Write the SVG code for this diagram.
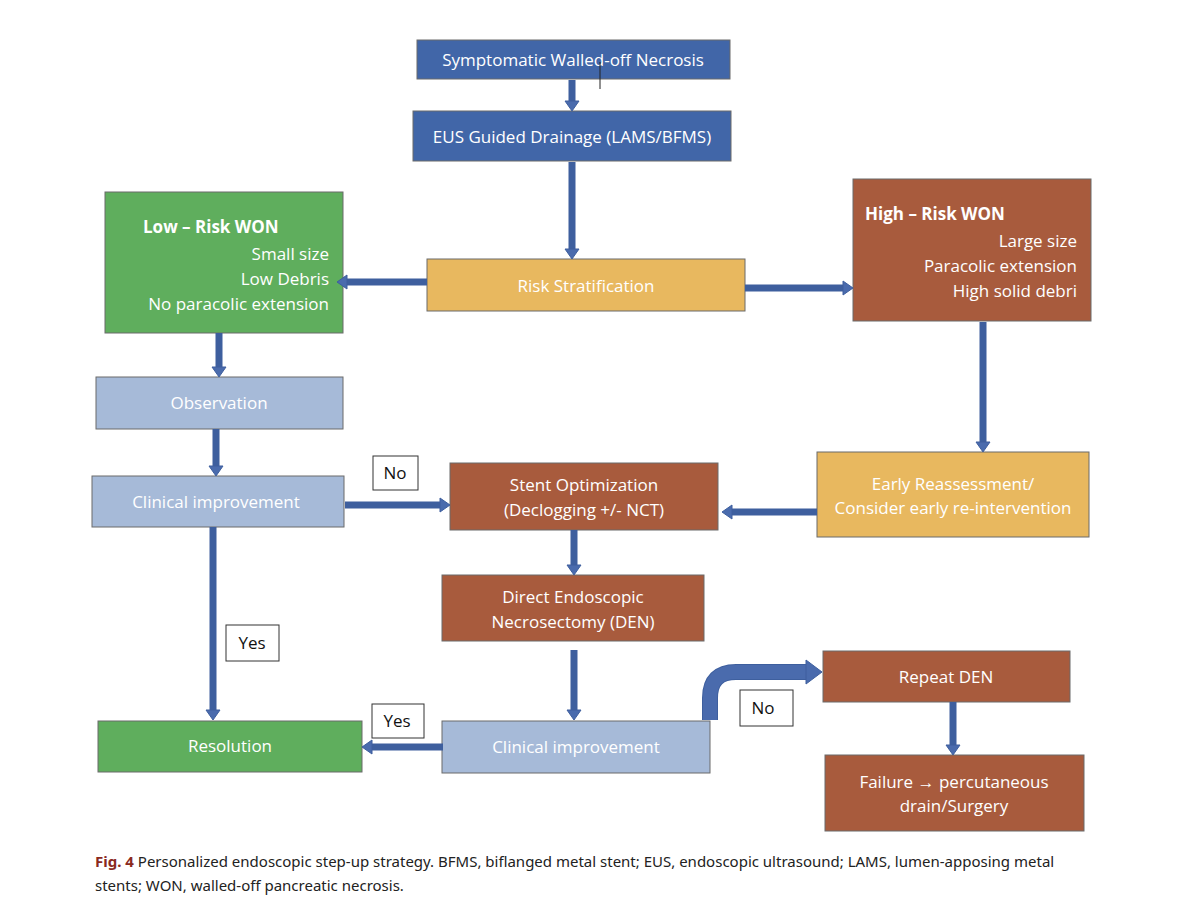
<svg xmlns="http://www.w3.org/2000/svg" width="1200" height="914" viewBox="0 0 1200 914">
<style>
.b{stroke:#6b6b6b;stroke-width:1}
.nv{fill:#4166a8}.gr{fill:#5fae5d}.yl{fill:#e8b85f}.br{fill:#a85b3d}.lb{fill:#a6bad8}
.lbl{fill:#fff;stroke:#333;stroke-width:1}
text{font-family:"Open Sans","Liberation Sans",sans-serif;font-size:17px;fill:#fff}
.c{text-anchor:middle}.r{text-anchor:end}
.k{fill:#111}
.sh{stroke:#3e5f9e;stroke-width:7;fill:none}
.hd{fill:#4a6bad;stroke:#3e5f9e;stroke-width:1}
.cap{font-family:"Noto Sans","Liberation Sans",sans-serif;font-size:15px;fill:#222}
</style>
<rect width="1200" height="914" fill="#fff"/>
<g id="n1"><rect class="b nv" x="417" y="40" width="313" height="39"/><text class="c" x="573" y="66">Symptomatic Walled-off Necrosis</text><line x1="600" y1="62" x2="600" y2="89" stroke="#222" stroke-width="1"/></g>
<g id="n2"><rect class="b nv" x="413" y="111" width="318" height="50"/><text class="c" x="572" y="143">EUS Guided Drainage (LAMS/BFMS)</text></g>
<g id="n3"><rect class="b gr" x="105" y="192" width="238" height="141"/><text x="143" y="233" font-weight="bold" font-size="19">Low – Risk WON</text><text class="r" x="329" y="260">Small size</text><text class="r" x="329" y="285">Low Debris</text><text class="r" x="329" y="310">No paracolic extension</text></g>
<g id="n4"><rect class="b yl" x="427" y="259" width="318" height="52"/><text class="c" x="586" y="292">Risk Stratification</text></g>
<g id="n5"><rect class="b br" x="853" y="179" width="238" height="142"/><text x="865" y="220" font-weight="bold" font-size="19">High – Risk WON</text><text class="r" x="1077" y="247">Large size</text><text class="r" x="1077" y="272">Paracolic extension</text><text class="r" x="1077" y="297">High solid debri</text></g>
<g id="n6"><rect class="b lb" x="96" y="377" width="247" height="52"/><text class="c" x="219" y="409">Observation</text></g>
<g id="n7"><rect class="b lb" x="92" y="476" width="252" height="51"/><text class="c" x="216" y="508">Clinical improvement</text></g>
<g id="n8"><rect class="b br" x="450" y="463" width="268" height="67"/><text class="c" x="584" y="491">Stent Optimization</text><text class="c" x="584" y="516">(Declogging +/- NCT)</text></g>
<g id="n9"><rect class="b yl" x="817" y="452" width="272" height="85"/><text class="c" x="953" y="490">Early Reassessment/</text><text class="c" x="953" y="514">Consider early re-intervention</text></g>
<g id="n10"><rect class="b br" x="442" y="575" width="262" height="66"/><text class="c" x="573" y="603">Direct Endoscopic</text><text class="c" x="573" y="628">Necrosectomy (DEN)</text></g>
<g id="n11"><rect class="b br" x="823" y="651" width="247" height="51"/><text class="c" x="946" y="683">Repeat DEN</text></g>
<g id="n12"><rect class="b gr" x="98" y="721" width="264" height="51"/><text class="c" x="230" y="752">Resolution</text></g>
<g id="n13"><rect class="b lb" x="442" y="721" width="268" height="52"/><text class="c" x="576" y="753">Clinical improvement</text></g>
<g id="n14"><rect class="b br" x="825" y="755" width="259" height="76"/><text class="c" x="954" y="788">Failure → percutaneous</text><text class="c" x="954" y="812">drain/Surgery</text></g>
<g id="labels">
<rect class="lbl" x="373" y="456" width="45" height="34"/><text class="c k" x="395" y="479">No</text>
<rect class="lbl" x="226" y="625" width="53" height="36"/><text class="c k" x="252" y="649">Yes</text>
<rect class="lbl" x="740" y="690" width="53" height="36"/><text class="c k" x="763" y="714">No</text>
<rect class="lbl" x="372" y="704" width="52" height="34"/><text class="c k" x="397" y="727">Yes</text>
</g>
<g id="connectors">
<path class="sh" d="M572 80V101M572 162V249M427 282H347M745 288H843M219 333V367M983 322V442M216 429V466M345 505H440M817 512H732M213 527V710M574 530V565M574 650V710M443 747H372M953 702V745"/>
<path class="hd" d="M565 101h14l-7 10zM565 249h14l-7 10zM347 275v14l-10-7zM843 281v14l10-7zM212 367h14l-7 10zM976 442h14l-7 10zM209 466h14l-7 10zM440 498v14l10-7zM732 505v14l-10-7zM206 710h14l-7 10zM567 565h14l-7 10zM567 710h14l-7 10zM372 740v14l-10-7zM946 745h14l-7 10z"/>
<path d="M710 720V698Q710 672 736 672H806" stroke="#3e5f9e" stroke-width="16" fill="none"/>
<path d="M710 720V698Q710 672 736 672H806" stroke="#4a6bad" stroke-width="14" fill="none"/>
<path class="hd" d="M806 660v24l-0 0 16-12z"/>
</g>
<text class="cap" x="95" y="867"><tspan font-weight="bold" fill="#8a2a1e">Fig. 4</tspan>  Personalized endoscopic step-up strategy. BFMS, biflanged metal stent; EUS, endoscopic ultrasound; LAMS, lumen-apposing metal</text>
<text class="cap" x="95" y="891">stents; WON, walled-off pancreatic necrosis.</text>
</svg>
